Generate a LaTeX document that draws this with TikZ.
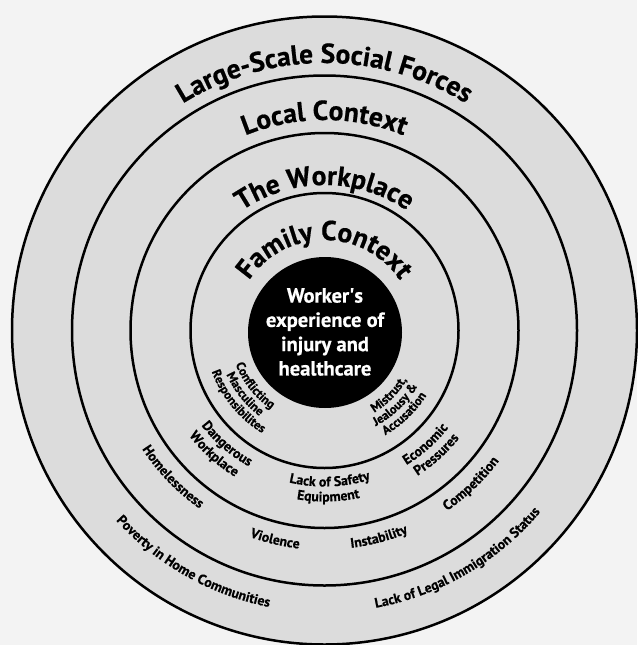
\documentclass[tikz,border=0pt]{standalone}
\usepackage{fontspec}
\setmainfont{PT Sans}[BoldFeatures={FakeBold=0.6}]
\usetikzlibrary{decorations.text}
\definecolor{ringfill}{HTML}{DCDCDC}
\definecolor{paper}{HTML}{F3F3F3}
\newcommand\ttlfont{\bfseries\fontsize{27.5}{27.5}\selectfont}
\newcommand\lblfont{\bfseries\fontsize{13.8}{13.8}\selectfont}
\newcommand\smlfont{\bfseries\fontsize{12.5}{12.5}\selectfont}
\tikzset{
  ring/.style={draw=black, line width=2.5pt, fill=ringfill},
}
% radius, half span, text  (top, reading clockwise)
\newcommand\toptext[3]{%
  \path[decorate, decoration={text along path, text align=center, text={|\ttlfont|#3}}]
    (90+#2:#1) arc[start angle=90+#2, end angle=90-#2, radius=#1];}
% centre angle, baseline radius, half span, font, text (bottom, counter-clockwise)
\newcommand\bottext[5]{%
  \path[decorate, decoration={text along path, text align=center, text={|#4|#5}}]
    (#1-#3:#2) arc[start angle=#1-#3, end angle=#1+#3, radius=#2];}
\begin{document}
\begin{tikzpicture}[x=1pt,y=1pt]
\useasboundingbox (0,0) rectangle (637,-645);
\fill[paper] (0,0) rectangle (637,-645);
\begin{scope}[shift={(324.5,-330.5)}]
  \draw[ring] (0,0) ellipse[x radius=312.5, y radius=314];
  \draw[ring] (0,0) ellipse[x radius=252.5, y radius=255];
  \draw[ring] (0,0) ellipse[x radius=194, y radius=197.5];
  \draw[ring] (0,0) ellipse[x radius=134, y radius=137.5];
  \fill[black] (0.5,-2) ellipse[x radius=77, y radius=75.5];
  \node[text=white, align=center, font=\bfseries\fontsize{20.5}{24.3}\selectfont] (core) at (0.5,-1.5)
    {Worker\textquotesingle s\\experience of\\injury and\\healthcare};
  % titles
  \toptext{267.5}{70}{Large-Scale Social Forces}
  \toptext{210.5}{70}{Local Context}
  \toptext{145.5}{80}{The Workplace}
  \toptext{90.5}{85}{Family Context}
  % outer band
  \bottext{240.5}{282}{35}{\lblfont}{Poverty in Home Communities}
  \bottext{300.2}{282}{35}{\lblfont}{Lack of Legal Immigration Status}
  % local band
  \bottext{224}{217.5}{30}{\lblfont}{Homelessness}
  \bottext{256.7}{219.5}{20}{\lblfont}{Violence}
  \bottext{284.7}{219}{20}{\lblfont}{Instability}
  \bottext{313.7}{218}{30}{\lblfont}{Competition}
  % workplace band
  \bottext{229.3}{155.5}{30}{\lblfont}{Dangerous}
  \bottext{228.2}{171.5}{30}{\lblfont}{Workplace}
  \bottext{272}{156}{35}{\lblfont}{Lack of Safety}
  \bottext{271.3}{171}{30}{\lblfont}{Equipment}
  \bottext{311.6}{157.5}{30}{\lblfont}{Economic}
  \bottext{312}{172.5}{30}{\lblfont}{Pressures}
  % family band
  \bottext{218.3}{95}{45}{\smlfont}{Conflicting}
  \bottext{218.5}{107.5}{45}{\smlfont}{Masculine}
  \bottext{219.4}{120}{45}{\smlfont}{Responsibilites}
  \bottext{315.2}{96}{45}{\smlfont}{Mistrust,}
  \bottext{313.6}{108.5}{45}{\smlfont}{Jealousy {\&}}
  \bottext{313.8}{121}{45}{\smlfont}{Accusation}
\end{scope}
\end{tikzpicture}
\end{document}
